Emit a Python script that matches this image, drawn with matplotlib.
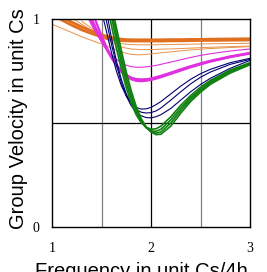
import numpy as np
import matplotlib as mpl
mpl.use('Agg')
import matplotlib.pyplot as plt

nan = np.nan

# frequency grid (unit Cs/4h)
freq = [1.0, 1.1, 1.2, 1.3, 1.4, 1.5, 1.55, 1.6, 1.65, 1.7, 1.75, 1.8, 1.85,
        1.9, 1.95, 2.0, 2.05, 2.1, 2.2, 2.3, 2.4, 2.5, 2.6, 2.8, 3.0]

# orange family
orange_a = [nan, 1.01, 0.985, 0.962, 0.942, 0.925, 0.917, 0.911, 0.906, 0.903, 0.901, 0.900, 0.900,
            0.900, 0.900, 0.900, 0.900, 0.900, 0.901, 0.901, 0.902, 0.902, 0.903, 0.904, 0.905]
orange_b = [1.02, 0.995, 0.970, 0.948, 0.930, 0.914, 0.907, 0.902, 0.898, 0.896, 0.895, 0.894, 0.894,
            0.894, 0.894, 0.894, 0.894, 0.894, 0.895, 0.895, 0.896, 0.897, 0.897, 0.898, 0.899]
orange_c = [nan, nan, 1.005, 0.975, 0.945, 0.918, 0.905, 0.895, 0.887, 0.882, 0.879, 0.877, 0.876,
            0.876, 0.876, 0.876, 0.876, 0.877, 0.877, 0.878, 0.879, 0.880, 0.881, 0.882, 0.883]
orange_d = [nan, nan, nan, 0.990, 0.955, 0.920, 0.903, 0.888, 0.876, 0.866, 0.860, 0.856, 0.854,
            0.853, 0.853, 0.853, 0.854, 0.855, 0.856, 0.858, 0.860, 0.862, 0.864, 0.867, 0.870]
orange_e = [0.975, 0.955, 0.935, 0.915, 0.897, 0.880, 0.871, 0.861, 0.851, 0.842, 0.835, 0.830, 0.828,
            0.828, 0.830, 0.832, 0.835, 0.837, 0.842, 0.847, 0.851, 0.855, 0.858, 0.863, 0.867]

# magenta family
magenta_a = [nan, nan, nan, 1.07, 0.970, 0.890, 0.855, 0.828, 0.806, 0.790, 0.778, 0.771, 0.768,
             0.768, 0.770, 0.773, 0.777, 0.782, 0.793, 0.804, 0.815, 0.825, 0.833, 0.846, 0.856]
magenta_b = [nan, nan, nan, 1.09, 0.985, 0.895, 0.855, 0.815, 0.780, 0.752, 0.732, 0.718, 0.711,
             0.709, 0.710, 0.714, 0.720, 0.727, 0.742, 0.758, 0.773, 0.787, 0.799, 0.820, 0.837]
magenta_c = [nan, nan, nan, 1.12, 1.000, 0.900, 0.857, 0.815, 0.777, 0.746, 0.724, 0.710, 0.703,
             0.701, 0.703, 0.707, 0.713, 0.720, 0.736, 0.752, 0.768, 0.782, 0.795, 0.817, 0.834]
magenta_d = [nan, nan, nan, nan, 1.040, 0.920, 0.866, 0.818, 0.778, 0.748, 0.728, 0.716, 0.710,
             0.708, 0.709, 0.712, 0.717, 0.724, 0.739, 0.755, 0.770, 0.784, 0.797, 0.818, 0.836]

# navy family
navy_a = [nan, nan, nan, nan, nan, 1.04, 0.94, 0.84, 0.75, 0.68, 0.63, 0.595, 0.575,
          0.567, 0.568, 0.575, 0.588, 0.603, 0.640, 0.677, 0.710, 0.737, 0.758, 0.790, 0.811]
navy_b = [nan, nan, nan, nan, nan, 1.10, 0.99, 0.88, 0.78, 0.695, 0.63, 0.583, 0.552,
          0.535, 0.526, 0.525, 0.530, 0.540, 0.570, 0.610, 0.650, 0.685, 0.715, 0.763, 0.801]
navy_c = [nan, nan, nan, nan, nan, nan, 1.04, 0.91, 0.80, 0.71, 0.64, 0.592, 0.565,
          0.552, 0.548, 0.550, 0.558, 0.572, 0.610, 0.650, 0.688, 0.720, 0.745, 0.782, 0.806]

# green family
green_a = [nan, nan, nan, nan, nan, nan, 1.08, 0.97, 0.86, 0.76, 0.67, 0.595, 0.540,
           0.502, 0.480, 0.470, 0.472, 0.485, 0.530, 0.585, 0.632, 0.672, 0.705, 0.755, 0.790]
green_b = [nan, nan, nan, nan, nan, nan, 1.12, 1.01, 0.90, 0.79, 0.695, 0.615, 0.552,
           0.508, 0.478, 0.462, 0.460, 0.470, 0.515, 0.572, 0.622, 0.663, 0.698, 0.750, 0.787]
green_c = [nan, nan, nan, nan, nan, nan, nan, 1.04, 0.93, 0.82, 0.72, 0.635, 0.565,
           0.513, 0.478, 0.458, 0.451, 0.457, 0.500, 0.560, 0.613, 0.656, 0.692, 0.745, 0.784]
green_d = [nan, nan, nan, nan, nan, nan, nan, 1.07, 0.96, 0.85, 0.745, 0.655, 0.580,
           0.522, 0.482, 0.457, 0.444, 0.446, 0.485, 0.547, 0.603, 0.648, 0.686, 0.740, 0.780]

fig = plt.figure(figsize=(2.67, 2.72), dpi=100)
ax = fig.add_axes([52/267, 1 - 227/272, 198/267, 208/272])

# grid lines
for xv, c in [(1.5, 'gray'), (2.0, 'black'), (2.5, 'gray')]:
    ax.axvline(xv, color=c, lw=0.9, zorder=1)
ax.axhline(0.5, color='black', lw=0.9, zorder=1)

for y in [orange_c, orange_d, orange_e]:
    ax.plot(freq, y, color='#E8924A', lw=0.7)
for y in [orange_a, orange_b]:
    ax.plot(freq, y, color='#E07020', lw=2.0)
ax.plot(freq, magenta_a, color='#E030E0', lw=0.8)
for y in [magenta_b, magenta_c, magenta_d]:
    ax.plot(freq, y, color='#E030E0', lw=1.6)
for y in [navy_a, navy_b, navy_c]:
    ax.plot(freq, y, color='#000070', lw=0.8)
for y in [green_a, green_b, green_c, green_d]:
    ax.plot(freq, y, color='#108010', lw=1.2)

ax.set_xlim(1, 3)
ax.set_ylim(0, 1)
ax.set_xticks([1, 2, 3])
ax.set_yticks([0, 1])
ax.tick_params(length=0, labelsize=10)
ax.tick_params(axis='y', pad=9)
ax.tick_params(axis='x', pad=11)
for lab in ax.get_xticklabels() + ax.get_yticklabels():
    lab.set_family('Liberation Serif')
for s in ax.spines.values():
    s.set_linewidth(1.0)

fig.text(0.53, -0.02, 'Frequency in unit Cs/4h', ha='center', va='baseline',
         fontsize=14.5, family='Liberation Sans')
fig.text(0.068, 0.5625, 'Group Velocity in unit Cs', ha='center', va='center',
         rotation=90, fontsize=14.5, family='Liberation Sans')

fig.savefig('out.png', dpi=100)
